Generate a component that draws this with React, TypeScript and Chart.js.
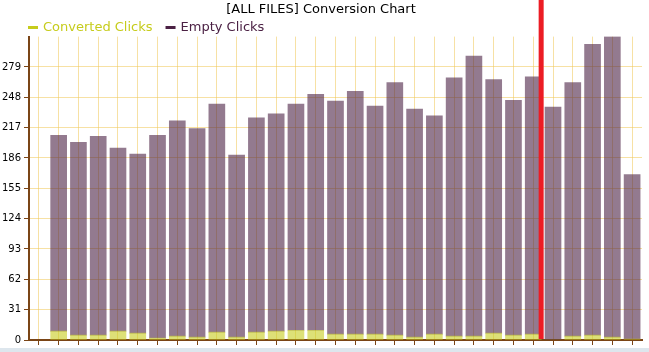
import React, { useEffect, useRef } from "react";
import { Chart, registerables } from "chart.js";

Chart.register(...registerables);

const chartTitle = "[ALL FILES] Conversion Chart";
const categories = [
  "1", "2", "3", "4", "5", "6", "7", "8", "9", "10",
  "11", "12", "13", "14", "15", "16", "17", "18", "19", "20",
  "21", "22", "23", "24", "25", "26", "27", "28", "29", "30", "31",
];
const convertedClicks = [
  null, 9, 5, 5, 9, 7, 2, 4, 3, 8, 3, 8, 9, 10, 10, 6, 6, 6, 5, 3, 6, 4, 4, 7, 5, 6, 0, 4, 5, 3, 1,
];
const emptyClicks = [
  null, 200, 197, 203, 187, 183, 207, 220, 213, 233, 186, 219, 222, 231, 241, 238, 248, 233, 258,
  233, 223, 264, 286, 259, 240, 263, 238, 259, 297, 307, 168,
];
const yTicks = [0, 31, 62, 93, 124, 155, 186, 217, 248, 279];
const yMax = 310;
const todayMarker = 25.4;

const CONVERTED = "rgb(198,204,28)";
const EMPTY = "rgb(75,33,68)";
const BROWN = "#7a4516";
const GRID = "rgba(240,200,90,0.55)";

const todayLine = {
  id: "todayLine",
  afterDatasetsDraw(chart: any) {
    const { ctx, chartArea, scales } = chart;
    const x = scales.x.getPixelForValue(todayMarker);
    ctx.save();
    ctx.fillStyle = "#ec1c24";
    ctx.fillRect(x - 2.5, 0, 5, chartArea.bottom - 1);
    ctx.restore();
  },
};

const customLegend = {
  id: "customLegend",
  afterDraw(chart: any) {
    const { ctx } = chart;
    const y = 27.5;
    let x = 28;
    ctx.save();
    ctx.font = "13px 'DejaVu Sans'";
    ctx.textBaseline = "middle";
    ctx.textAlign = "left";
    chart.data.datasets.forEach((ds: any) => {
      ctx.fillStyle = ds.legendColor;
      ctx.fillRect(x, y - 1.5, 10, 3);
      ctx.fillText(ds.label, x + 15, y);
      x += 15 + ctx.measureText(ds.label).width + 13;
    });
    ctx.restore();
  },
};

export default function App() {
  const canvasRef = useRef<HTMLCanvasElement | null>(null);

  useEffect(() => {
    if (!canvasRef.current) return;
    Chart.defaults.font.family = "'DejaVu Sans'";
    const chart = new Chart(canvasRef.current, {
      type: "bar",
      data: {
        labels: categories,
        datasets: [
          {
            label: "Converted Clicks",
            data: convertedClicks,
            backgroundColor: "rgba(198,204,28,0.6)",
            borderWidth: 0,
            legendColor: CONVERTED,
          } as any,
          {
            label: "Empty Clicks",
            data: emptyClicks,
            backgroundColor: "rgba(75,33,68,0.6)",
            borderWidth: 0,
            legendColor: EMPTY,
          } as any,
        ],
      },
      options: {
        animation: false,
        responsive: false,
        maintainAspectRatio: false,
        layout: { padding: { left: 0, right: 7, top: 0, bottom: 7 } },
        datasets: { bar: { barThickness: 16 } },
        plugins: {
          legend: { display: false },
          tooltip: { enabled: false },
          title: {
            display: true,
            text: chartTitle,
            color: "#000",
            font: { size: 13, weight: "normal" },
            padding: { top: 2, bottom: 19 },
          },
        },
        scales: {
          x: {
            stacked: true,
            offset: true,
            grid: { offset: false, color: GRID, tickColor: BROWN, tickLength: 5, drawTicks: true },
            border: { color: BROWN, width: 2 },
            ticks: { display: false },
          },
          y: {
            stacked: true,
            min: 0,
            max: yMax,
            afterBuildTicks: (scale: any) => {
              scale.ticks = yTicks.map((v) => ({ value: v }));
            },
            afterFit: (scale: any) => {
              scale.width = 29;
            },
            grid: { color: GRID, tickColor: BROWN, tickLength: 5, drawTicks: true },
            border: { color: BROWN, width: 2 },
            ticks: { color: "#000", font: { size: 10 }, padding: 3 },
          },
        },
      },
      plugins: [todayLine, customLegend],
    });
    return () => chart.destroy();
  }, []);

  return (
    <div style={{ position: "fixed", left: 0, top: 0, width: 649, height: 352, background: "#fff" }}>
      <canvas ref={canvasRef} width={649} height={352} style={{ display: "block" }} />
      <div style={{ position: "absolute", left: 0, top: 348, width: 649, height: 4, background: "#dde6ed" }} />
    </div>
  );
}
